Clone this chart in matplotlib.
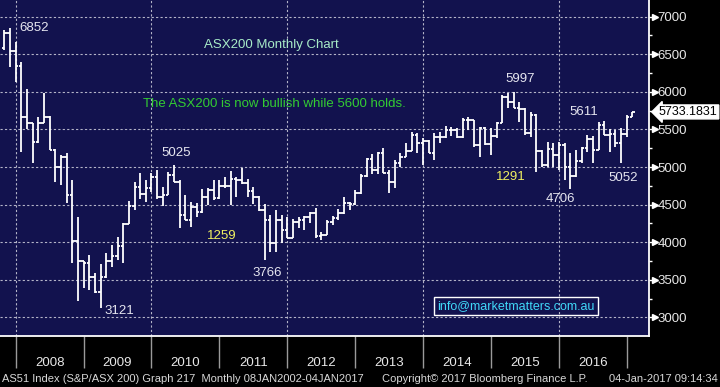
import matplotlib
matplotlib.use('Agg')
import matplotlib.pyplot as plt
import matplotlib.transforms as mtransforms
import numpy as np

# ---------------- data ----------------
months = [
    "2007-10", "2007-11", "2007-12",
    "2008-01", "2008-02", "2008-03", "2008-04", "2008-05", "2008-06",
    "2008-07", "2008-08", "2008-09", "2008-10", "2008-11", "2008-12",
    "2009-01", "2009-02", "2009-03", "2009-04", "2009-05", "2009-06",
    "2009-07", "2009-08", "2009-09", "2009-10", "2009-11", "2009-12",
    "2010-01", "2010-02", "2010-03", "2010-04", "2010-05", "2010-06",
    "2010-07", "2010-08", "2010-09", "2010-10", "2010-11", "2010-12",
    "2011-01", "2011-02", "2011-03", "2011-04", "2011-05", "2011-06",
    "2011-07", "2011-08", "2011-09", "2011-10", "2011-11", "2011-12",
    "2012-01", "2012-02", "2012-03", "2012-04", "2012-05", "2012-06",
    "2012-07", "2012-08", "2012-09", "2012-10", "2012-11", "2012-12",
    "2013-01", "2013-02", "2013-03", "2013-04", "2013-05", "2013-06",
    "2013-07", "2013-08", "2013-09", "2013-10", "2013-11", "2013-12",
    "2014-01", "2014-02", "2014-03", "2014-04", "2014-05", "2014-06",
    "2014-07", "2014-08", "2014-09", "2014-10", "2014-11", "2014-12",
    "2015-01", "2015-02", "2015-03", "2015-04", "2015-05", "2015-06",
    "2015-07", "2015-08", "2015-09", "2015-10", "2015-11", "2015-12",
    "2016-01", "2016-02", "2016-03", "2016-04", "2016-05", "2016-06",
    "2016-07", "2016-08", "2016-09", "2016-10", "2016-11", "2016-12",
    "2017-01",
]
opens = [
    6580, 6779, 6550,
    6340, 5670, 5580, 5338, 5590, 5660, 5227, 5000, 5138, 4631, 4010, 3750,
    3720, 3543, 3340, 3532, 3745, 3813, 3947, 4249, 4484, 4739, 4645, 4715,
    4871, 4596, 4632, 4893, 4807, 4367, 4301, 4469, 4396, 4598, 4696, 4584,
    4745, 4754, 4836, 4829, 4791, 4679, 4608, 4425, 4296, 3985, 4298, 4157,
    4057, 4264, 4299, 4335, 4391, 4077, 4095, 4264, 4316, 4387, 4519, 4506,
    4649, 4879, 5104, 4966, 5191, 4926, 4803, 5052, 5135, 5218, 5425, 5320,
    5352, 5190, 5404, 5395, 5489, 5492, 5396, 5623, 5625, 5292, 5526, 5313,
    5411, 5588, 5929, 5861, 5790, 5777, 5459, 5699, 5207, 5021, 5239, 5167,
    5296, 5005, 4881, 5082, 5252, 5378, 5233, 5562, 5433, 5436, 5318, 5440,
    5665,
]
highs = [
    6829, 6852, 6668,
    6402, 6034, 5591, 5670, 5981, 5679, 5236, 5161, 5183, 4828, 4340, 3755,
    3831, 3587, 3711, 3853, 3964, 4074, 4252, 4553, 4806, 4917, 4828, 4926,
    4961, 4739, 4939, 5025, 4830, 4629, 4540, 4518, 4704, 4717, 4828, 4828,
    4872, 4948, 4872, 4983, 4837, 4731, 4615, 4509, 4363, 4429, 4363, 4332,
    4305, 4340, 4349, 4407, 4451, 4141, 4300, 4350, 4440, 4598, 4530, 4695,
    4908, 5116, 5174, 5205, 5249, 4961, 5094, 5183, 5316, 5471, 5449, 5382,
    5360, 5449, 5471, 5546, 5528, 5515, 5648, 5670, 5630, 5537, 5530, 5515,
    5604, 5959, 5990, 5997, 5870, 5781, 5737, 5700, 5227, 5338, 5316, 5338,
    5316, 5183, 5227, 5271, 5427, 5413, 5604, 5611, 5500, 5493, 5515, 5693,
    5736,
]
lows = [
    6560, 6335, 6136,
    5205, 5502, 5059, 5316, 5582, 5227, 4806, 4762, 4518, 3720, 3223, 3387,
    3365, 3321, 3121, 3520, 3665, 3764, 3720, 4240, 4429, 4571, 4540, 4673,
    4571, 4482, 4630, 4806, 4185, 4290, 4207, 4340, 4390, 4496, 4562, 4571,
    4717, 4496, 4598, 4780, 4598, 4509, 4420, 3766, 3875, 3875, 3986, 4052,
    4050, 4185, 4163, 4252, 4061, 4030, 4090, 4230, 4300, 4380, 4429, 4500,
    4645, 4872, 4908, 4908, 4917, 4651, 4717, 5005, 5130, 5215, 5183, 5028,
    5183, 5100, 5316, 5390, 5413, 5382, 5390, 5493, 5271, 5138, 5293, 5161,
    5380, 5580, 5781, 5781, 5604, 5427, 5404, 4939, 5005, 5000, 5005, 4961,
    4828, 4706, 4872, 5050, 5205, 5050, 5227, 5427, 5205, 5271, 5052, 5404,
    5665,
]
closes = [
    6779, 6550, 6340,
    5670, 5580, 5338, 5590, 5660, 5227, 5000, 5138, 4631, 4010, 3750, 3720,
    3543, 3340, 3532, 3745, 3813, 3947, 4249, 4484, 4739, 4645, 4715, 4871,
    4596, 4632, 4893, 4807, 4367, 4301, 4469, 4396, 4598, 4696, 4584, 4745,
    4754, 4836, 4829, 4791, 4679, 4608, 4425, 4296, 3985, 4298, 4157, 4057,
    4264, 4299, 4335, 4391, 4077, 4095, 4264, 4316, 4387, 4519, 4506, 4649,
    4879, 5104, 4966, 5191, 4926, 4803, 5052, 5135, 5218, 5425, 5320, 5352,
    5190, 5404, 5395, 5489, 5492, 5396, 5623, 5625, 5292, 5526, 5313, 5411,
    5588, 5929, 5861, 5790, 5777, 5459, 5699, 5207, 5021, 5239, 5167, 5296,
    5005, 4881, 5082, 5252, 5378, 5233, 5562, 5433, 5436, 5318, 5440, 5665,
    5733,
]

year_ticks = list(range(2008, 2018))
year_labels = [str(y) for y in range(2008, 2017)]
grid_years = [2008, 2010, 2012, 2014, 2016]
y_ticks = [3000, 3500, 4000, 4500, 5000, 5500, 6000, 6500, 7000]
y_minor = [3250, 3750, 4250, 4750, 5250, 5750, 6250, 6750]
last_value = 5733.1831

# (text, x in years, y value, colour)
point_labels = [
    ("6852", 2008.27, 6850, "#e6e6f0"),
    ("5025", 2010.37, 5187, "#e6e6f0"),
    ("3121", 2009.52, 3086, "#e6e6f0"),
    ("3766", 2011.70, 3591, "#e6e6f0"),
    ("5997", 2015.43, 6171, "#e6e6f0"),
    ("5611", 2016.37, 5733, "#e6e6f0"),
    ("4706", 2016.02, 4576, "#e6e6f0"),
    ("5052", 2016.94, 4855, "#e6e6f0"),
    ("1259", 2011.03, 4083, "#f0f060"),
    ("1291", 2015.285, 4868, "#f0f060"),
]
title_text = "ASX200 Monthly Chart"
comment_text = "The ASX200 is now bullish while 5600 holds."
info_text = "info@marketmatters.com.au"
footer_left = "AS51 Index (S&P/ASX 200) Graph 217  Monthly 08JAN2002-04JAN2017"
footer_mid = "Copyright\u00a9 2017 Bloomberg Finance L.P."
footer_right = "04-Jan-2017 09:14:34"

# ---------------- plot ----------------
plt.rcParams['font.family'] = ['Liberation Sans', 'DejaVu Sans']

W, H = 720, 387
fig = plt.figure(figsize=(W / 100, H / 100), dpi=100, facecolor='black')
ax = fig.add_axes([0, 51 / H, 649 / W, 336 / H])
ax.set_facecolor('#12124e')

x = np.array([int(m[:4]) + int(m[5:]) / 12 for m in months])
lw = 1.3
tick_w = 0.038
ax.vlines(x, lows, highs, color='white', lw=lw, zorder=3)
ax.hlines(opens, x - tick_w, x, color='white', lw=lw, zorder=3)
ax.hlines(closes, x, x + tick_w, color='white', lw=lw, zorder=3)

ax.set_xlim(2007.769, 2017.327)
ax.set_ylim(2753, 7222)

# grid
grid_kw = dict(color='#b4b4c8', lw=0.8, ls=(0, (2, 2)), zorder=1)
for gy in grid_years:
    ax.axvline(gy, **grid_kw)
for yt in y_ticks:
    ax.axhline(yt, **grid_kw)

# spines
for s in ['top', 'left']:
    ax.spines[s].set_visible(False)
for s in ['right', 'bottom']:
    ax.spines[s].set_color('white')
    ax.spines[s].set_linewidth(1.3)

# y axis (right)
ax.yaxis.tick_right()
ax.set_yticks(y_ticks)
ax.set_yticks(y_minor, minor=True)
ax.tick_params(axis='y', which='major', colors='white', labelcolor='#e8e8e8',
               labelsize=9.5, length=4.3, width=1, pad=1.8)
ax.tick_params(axis='y', which='minor', colors='white', length=2.5, width=1)
tri_tr = mtransforms.blended_transform_factory(ax.transAxes, ax.transData)
ax.plot([1.0 + 5.5 / 649] * len(y_ticks), y_ticks, ls='none', marker='>',
        ms=4, color='white', transform=tri_tr, clip_on=False, zorder=5)

# x axis
ax.set_xticks(year_ticks)
ax.set_xticklabels([''] * len(year_ticks))
ax.set_xticks([y + 0.5 for y in range(2008, 2017)], minor=True)
ax.set_xticklabels(year_labels, minor=True)
ax.tick_params(axis='x', which='major', colors='#9a9a9a', length=23, width=1)
ax.tick_params(axis='x', which='minor', length=0, pad=15, labelsize=9.5,
               labelcolor='#e8e8e8')

# texts
for t, tx, ty, c in point_labels:
    ax.text(tx, ty, t, color=c, fontsize=9.5, ha='center', va='center', zorder=6)

ax.text(2011.76, 6624, title_text, color='#a8ecc8', fontsize=9.5,
        ha='center', va='center')
ax.text(2011.81, 5839, comment_text, color='#33cc33', fontsize=9.5,
        ha='center', va='center')
ax.text(2015.37, 3152, info_text, color='#40d8f8', fontsize=9,
        ha='center', va='center',
        bbox=dict(boxstyle='square,pad=0.25', fc='none', ec='white', lw=1))

ax.text(1.0 + 10 / 649, last_value, f"{last_value:.4f}", transform=tri_tr,
        color='black', fontsize=9, ha='left', va='center', clip_on=False,
        bbox=dict(boxstyle='larrow,pad=0.08', fc='white', ec='white'),
        zorder=7)

fy = 1 - 379 / H
fig.text(2 / W, fy, footer_left, color='#d8d8d8', fontsize=8.0, ha='left', va='center')
fig.text(382 / W, fy, footer_mid, color='#d8d8d8', fontsize=8.0, ha='left', va='center')
fig.text(718 / W, fy, footer_right, color='#d8d8d8', fontsize=8.0, ha='right', va='center')

fig.savefig('out.png', dpi=100, facecolor='black')
